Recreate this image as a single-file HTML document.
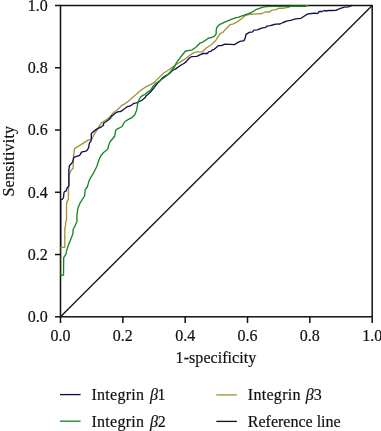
<!DOCTYPE html>
<html><head><meta charset="utf-8"><style>
html,body{margin:0;padding:0;background:#fff;}
body{width:381px;height:431px;overflow:hidden;}
svg{display:block;will-change:transform;}
text{font-family:"Liberation Serif",serif;font-size:16px;fill:#111;stroke:#111;stroke-width:0.2px;}
</style></head><body>
<svg width="381" height="431" viewBox="0 0 381 431">
<rect x="60.5" y="5.5" width="311.70" height="311.30" fill="none" stroke="#111" stroke-width="1.5"/>
<line x1="60.5" y1="316.8" x2="372.2" y2="5.5" stroke="#1a1418" stroke-width="1.35"/>
<polyline points="60.5,247.3 64.8,247.3 64.8,227.8 65.5,226.5 65.6,222.0 66.5,220.0 66.5,204.0 67.1,201.5 68.4,199.7 68.5,188.0 69.1,174.6 71.1,170.4 73.2,168.0 73.2,160.4 73.8,154.6 74.5,148.6 80.9,144.6 88.1,140.2 90.5,139.4 92.1,138.6 92.9,137.0 94.4,133.9 96.8,130.4 98.8,126.8 101.5,122.9 103.9,121.3 107.0,119.3 109.4,117.4 111.0,115.4 113.7,112.5 117.3,109.8 121.9,105.4 124.7,103.8 127.5,101.9 131.1,98.7 136.6,94.1 141.2,90.0 145.3,87.2 150.9,84.4 154.4,82.3 159.2,77.4 163.4,73.2 169.0,69.7 172.0,67.6 176.2,64.3 180.4,61.8 185.6,58.6 189.8,55.3 194.0,52.6 197.2,51.8 202.4,51.8 206.2,48.0 210.4,45.3 212.0,44.2 215.7,40.5 218.0,36.8 220.4,33.5 223.1,32.1 225.9,28.9 230.1,24.7 233.4,23.8 237.1,21.9 242.2,18.3 245.3,15.6 248.5,14.6 253.7,14.1 262.1,13.5 265.3,12.0 269.5,12.0 271.6,10.4 276.0,9.6 279.0,8.2 283.6,8.2 286.2,7.6 288.9,7.4 290.0,6.3 306.0,6.3 308.0,5.5" fill="none" stroke="#a39336" stroke-width="1.35" stroke-linejoin="round"/>
<polyline points="60.5,199.5 62.5,199.2 63.5,197.5 64.0,192.5 64.8,191.3 66.1,191.0 66.7,189.2 67.3,187.6 68.5,186.7 68.9,185.5 68.9,178.0 68.8,170.6 69.4,166.0 70.4,164.6 71.3,163.7 72.7,161.8 73.6,158.6 74.1,157.2 75.9,156.7 78.2,155.8 79.6,155.3 80.6,153.9 81.5,152.1 83.4,151.6 86.1,151.1 87.5,149.7 88.7,147.4 89.2,144.0 89.7,142.6 90.9,141.0 91.3,140.2 91.3,133.9 92.1,132.7 96.0,129.6 98.0,128.4 101.5,126.8 103.5,125.2 103.5,123.3 105.9,121.7 108.6,119.7 110.6,118.1 111.0,116.6 112.6,115.4 115.5,113.0 118.3,111.6 120.6,111.6 123.8,109.3 127.5,106.5 129.8,106.1 132.0,104.7 133.9,103.3 136.6,102.9 139.4,101.5 142.2,100.1 145.0,97.8 146.3,95.7 150.0,92.5 153.6,88.3 156.8,84.1 159.4,81.5 162.0,78.4 164.7,76.3 167.8,74.7 170.4,72.6 172.5,70.5 175.7,68.9 180.0,65.8 184.2,63.2 186.3,61.6 189.4,58.0 191.5,56.7 196.8,56.4 199.9,54.8 203.1,53.5 207.3,53.5 208.9,51.6 211.0,51.4 212.0,50.1 214.1,49.3 215.7,48.0 218.5,45.6 221.3,45.6 225.0,44.2 234.5,44.6 238.1,42.3 240.1,41.4 244.0,40.6 245.3,37.7 246.0,34.4 249.3,32.4 252.6,31.8 253.9,30.1 257.2,29.8 259.8,28.8 262.4,27.8 265.7,27.4 267.0,26.1 270.3,25.6 274.2,24.5 276.0,24.2 280.0,24.0 283.1,22.5 287.3,20.9 290.5,20.4 295.7,18.8 301.0,18.3 304.1,16.2 307.3,14.1 311.5,13.5 315.0,13.1 317.6,13.6 319.2,11.5 322.3,11.5 324.4,10.5 326.5,11.0 328.6,10.3 331.8,10.5 336.0,10.3 338.1,9.4 341.2,8.2 344.4,7.1 348.6,6.8 350.0,6.0 352.0,5.5" fill="none" stroke="#11104e" stroke-width="1.35" stroke-linejoin="round"/>
<polyline points="60.5,275.7 63.5,275.0 63.7,257.6 66.1,253.9 66.5,251.1 67.9,246.5 70.5,240.0 73.0,233.5 73.0,230.0 76.9,221.8 76.9,215.5 78.0,207.9 80.4,202.3 84.6,196.0 85.2,189.7 87.3,187.0 89.3,180.1 93.4,173.2 96.9,166.2 98.9,160.0 100.8,155.7 103.6,152.5 107.7,149.2 108.7,145.1 110.1,141.8 114.7,136.2 115.6,130.7 116.6,129.3 122.1,126.5 122.9,125.0 124.7,121.7 128.4,119.4 132.0,117.6 134.8,114.8 136.6,110.2 137.6,104.7 138.5,101.0 140.3,97.3 143.1,95.1 145.0,94.6 146.3,92.8 150.5,90.4 153.1,86.2 155.7,83.6 160.0,80.5 164.1,77.8 167.8,74.7 171.5,70.5 174.6,66.5 176.2,63.2 178.0,60.5 180.4,57.3 185.6,51.0 191.7,50.1 195.9,47.3 200.1,43.1 202.2,42.4 208.4,38.2 211.9,37.5 214.8,35.9 216.2,33.5 216.2,29.8 217.1,27.0 219.4,24.7 223.1,22.9 230.6,19.6 236.1,17.7 238.0,17.3 244.3,15.1 251.6,12.5 256.4,9.3 263.2,7.2 266.3,6.7 273.1,6.4 305.0,6.3 307.0,5.5" fill="none" stroke="#17862a" stroke-width="1.35" stroke-linejoin="round"/>
<line x1="61.2" y1="199.5" x2="61.2" y2="246.5" stroke="#11104e" stroke-width="0.55"/>
<line x1="61.2" y1="247.5" x2="61.2" y2="275" stroke="#a39336" stroke-width="0.6"/>
<line x1="55" y1="316.80" x2="60.5" y2="316.80" stroke="#111" stroke-width="1.5"/>
<text x="27.8" y="322.20">0.0</text>
<line x1="55" y1="254.54" x2="60.5" y2="254.54" stroke="#111" stroke-width="1.5"/>
<text x="27.8" y="260.34">0.2</text>
<line x1="55" y1="192.28" x2="60.5" y2="192.28" stroke="#111" stroke-width="1.5"/>
<text x="27.8" y="198.18">0.4</text>
<line x1="55" y1="130.02" x2="60.5" y2="130.02" stroke="#111" stroke-width="1.5"/>
<text x="27.8" y="135.22">0.6</text>
<line x1="55" y1="67.76" x2="60.5" y2="67.76" stroke="#111" stroke-width="1.5"/>
<text x="27.8" y="72.86">0.8</text>
<line x1="55" y1="5.50" x2="60.5" y2="5.50" stroke="#111" stroke-width="1.5"/>
<text x="27.8" y="10.60">1.0</text>
<line x1="60.50" y1="316.8" x2="60.50" y2="323" stroke="#111" stroke-width="1.5"/>
<text x="60.50" y="341.4" text-anchor="middle">0.0</text>
<line x1="122.84" y1="316.8" x2="122.84" y2="323" stroke="#111" stroke-width="1.5"/>
<text x="122.84" y="341.4" text-anchor="middle">0.2</text>
<line x1="185.18" y1="316.8" x2="185.18" y2="323" stroke="#111" stroke-width="1.5"/>
<text x="185.18" y="341.4" text-anchor="middle">0.4</text>
<line x1="247.52" y1="316.8" x2="247.52" y2="323" stroke="#111" stroke-width="1.5"/>
<text x="247.52" y="341.4" text-anchor="middle">0.6</text>
<line x1="309.86" y1="316.8" x2="309.86" y2="323" stroke="#111" stroke-width="1.5"/>
<text x="309.86" y="341.4" text-anchor="middle">0.8</text>
<line x1="372.20" y1="316.8" x2="372.20" y2="323" stroke="#111" stroke-width="1.5"/>
<text x="372.20" y="341.4" text-anchor="middle">1.0</text>
<text x="175.6" y="362.6" textLength="80.7" lengthAdjust="spacing">1-specificity</text>
<text transform="translate(14,196.5) rotate(-90)" x="0" y="0" textLength="70.6" lengthAdjust="spacing">Sensitivity</text>
<line x1="60" y1="394.6" x2="80.6" y2="394.6" stroke="#11104e" stroke-width="1.35"/>
<line x1="60" y1="421.2" x2="80.6" y2="421.2" stroke="#17862a" stroke-width="1.35"/>
<line x1="216.3" y1="394.9" x2="236.9" y2="394.9" stroke="#a39336" stroke-width="1.35"/>
<line x1="216.3" y1="421.4" x2="236.9" y2="421.4" stroke="#1a1418" stroke-width="1.35"/>
<text x="91.4" y="399.6" textLength="52.7" lengthAdjust="spacing">Integrin</text>
<text x="150.05" y="399.6" font-style="italic">β</text>
<text x="157.4" y="399.6">1</text>
<text x="91.4" y="426.6" textLength="52.7" lengthAdjust="spacing">Integrin</text>
<text x="150.05" y="426.6" font-style="italic">β</text>
<text x="157.85" y="426.6">2</text>
<text x="247.8" y="399.7" textLength="52.7" lengthAdjust="spacing">Integrin</text>
<text x="305.85" y="399.7" font-style="italic">β</text>
<text x="313.75" y="399.7">3</text>
<text x="247.8" y="426.7">Reference line</text>
</svg>
</body></html>
